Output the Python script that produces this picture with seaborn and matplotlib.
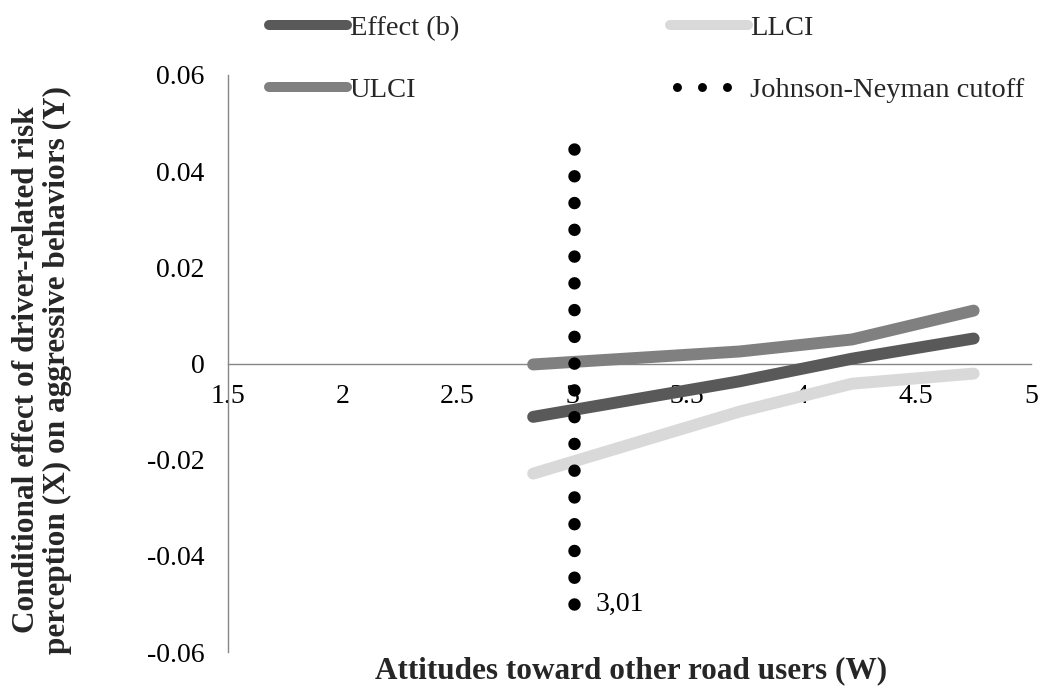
import matplotlib
matplotlib.use("Agg")
import matplotlib.pyplot as plt
import pandas as pd
import seaborn as sns
from matplotlib.lines import Line2D

# Moderator values (W) and conditional effect of X on Y with its 95% CI
w_values = [2.83, 3.73, 4.22, 4.75]
effect_b = [-0.0111, -0.0037, 0.0010, 0.0052]
llci = [-0.0229, -0.0100, -0.0042, -0.0021]
ulci = [-0.0002, 0.0025, 0.0050, 0.0110]

# Johnson-Neyman cutoff marker line
jn_x = [3.01, 3.01]
jn_y = [-0.050, 0.045]
jn_label = "3,01"

x_ticks = [1.5, 2, 2.5, 3, 3.5, 4, 4.5, 5]
x_tick_labels = ["1.5", "2", "2.5", "3", "3.5", "4", "4.5", "5"]
y_ticks = [-0.06, -0.04, -0.02, 0, 0.02, 0.04, 0.06]
y_tick_labels = ["-0.06", "-0.04", "-0.02", "0", "0.02", "0.04", "0.06"]

series_names = ["Effect (b)", "LLCI", "ULCI"]
series_colors = {"Effect (b)": "#595959", "LLCI": "#d9d9d9", "ULCI": "#808080"}

sns.set_theme(style="white")
plt.rcParams["font.family"] = ["Liberation Serif", "DejaVu Serif"]
plt.rcParams["axes.unicode_minus"] = False

df = pd.DataFrame({
    "W": w_values * 3,
    "value": effect_b + llci + ulci,
    "series": [s for s in series_names for _ in w_values],
})

fig = plt.figure(figsize=(10.38, 6.89), dpi=100)
ax = fig.add_axes([228 / 1038, 1 - 652 / 689, (1031 - 228) / 1038, (652 - 75) / 689])

sns.lineplot(data=df, x="W", y="value", hue="series", hue_order=series_names,
             palette=series_colors, linewidth=8.6, solid_capstyle="round",
             sort=False, legend=False, ax=ax, zorder=3)

# Round-dotted vertical line marking the region of significance boundary
ax.plot(jn_x, jn_y, color="black", linewidth=9.0,
        linestyle=(0, (0.001, 2.14)), dash_capstyle="round", zorder=4)
ax.annotate(jn_label, xy=(jn_x[0], jn_y[0]), xytext=(15, 0),
            textcoords="offset points", va="center", ha="left",
            fontsize=20, color="black")

ax.set_xlim(1.5, 5)
ax.set_ylim(-0.06, 0.06)
ax.set_xticks(x_ticks)
ax.set_xticklabels(x_tick_labels)
ax.set_yticks(y_ticks)
ax.set_yticklabels(y_tick_labels)
ax.tick_params(axis="both", length=0, labelsize=20, colors="black")
ax.tick_params(axis="x", pad=15)
ax.tick_params(axis="y", pad=17)
ax.set_axisbelow(True)

for side in ["top", "right"]:
    ax.spines[side].set_visible(False)
ax.spines["bottom"].set_position(("data", 0))
for side in ["left", "bottom"]:
    ax.spines[side].set_color("#868686")
    ax.spines[side].set_linewidth(1.0)

ax.set_xlabel("")
ax.set_ylabel("")
fig.text(631 / 1038, 1 - 671 / 689, "Attitudes toward other road users (W)",
         ha="center", va="center", fontsize=22.5, fontweight="bold")
fig.text(42 / 1038, 1 - 370 / 689,
         "Conditional effect of driver-related risk\nperception (X) on aggressive behaviors (Y)",
         ha="center", va="center", rotation=90, fontsize=22.5, fontweight="bold",
         linespacing=1.05)

handles = [
    Line2D([], [], color=series_colors["Effect (b)"], lw=7.2, solid_capstyle="round"),
    Line2D([], [], color=series_colors["ULCI"], lw=7.2, solid_capstyle="round"),
    Line2D([], [], color=series_colors["LLCI"], lw=7.2, solid_capstyle="round"),
    Line2D([], [], color="black", lw=6.5, linestyle=(2.0, (0.001, 2.77)),
           dash_capstyle="round"),
]
labels = ["Effect (b)", "ULCI", "LLCI", "Johnson-Neyman cutoff"]
fig.legend(handles, labels, ncol=2, loc="upper left",
           bbox_to_anchor=(249 / 1038, 1 + 5 / 689), frameon=False,
           fontsize=20.5, handlelength=2.75, handletextpad=0.08,
           columnspacing=7.4, labelspacing=1.27, borderpad=0.2)

fig.savefig("out.png", dpi=100)
